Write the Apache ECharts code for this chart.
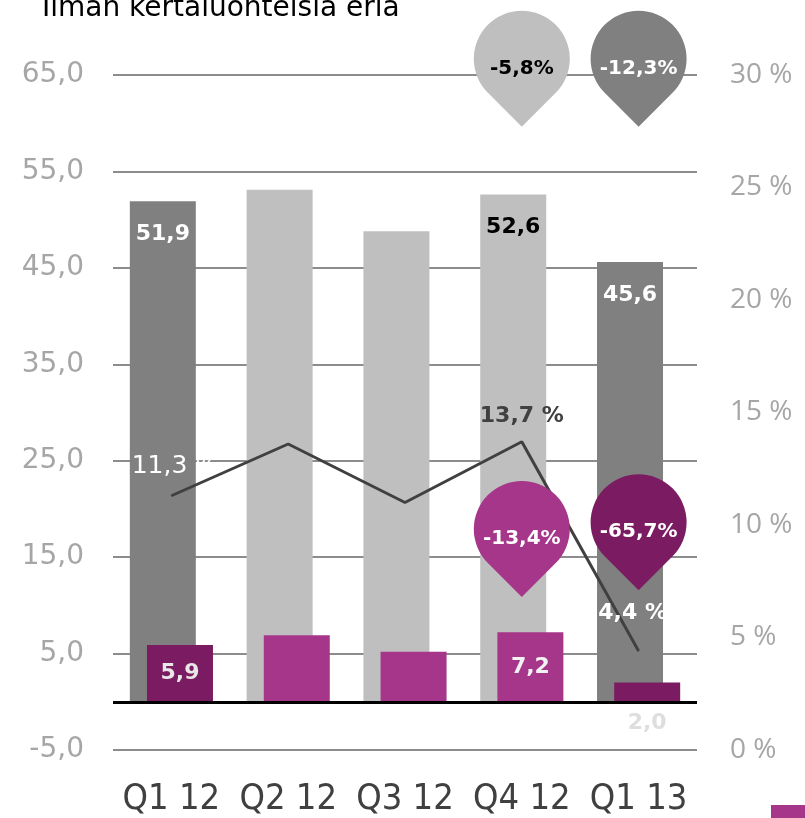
<!DOCTYPE html>
<html>
<head>
<meta charset="utf-8">
<script src="https://cdn.jsdelivr.net/npm/echarts@6/dist/echarts.min.js"></script>
<style>
    html, body { margin: 0; padding: 0; background: #fff; }
    #chart { width: 805px; height: 818px; }
</style>
</head>
<body>
<div id="chart"></div>
<script>
    let categories = ['Q1 12', 'Q2 12', 'Q3 12', 'Q4 12', 'Q1 13'];
    let salesValues = [51.9, 53.1, 48.8, 52.6, 45.6];
    let profitValues = [5.9, 6.9, 5.2, 7.2, 2.0];
    let marginValues = [11.3, 13.6, 11.0, 13.7, 4.4];
    let changeValues = [-5.8, -12.3, -13.4, -65.7];

    let fmt = function(v){
        return v.toFixed(1).replace('.', ',');
    };

    let darkGray = '#808080', lightGray = '#bfbfbf';
    let darkPurple = '#7b1c62', purple = '#a6368a';
    let pinPath = 'path://M-70.71 70.71A100 100 0 1 1 70.71 70.71L0 141.42Z';
    let labelFont = 'DejaVu Sans';

    // first and last quarter are highlighted
    let isDark = function(i){ return i === 0 || i === 4; };

    let salesData = salesValues.map(function(v, i){
        let lbl = { show: false };
        if (i === 0 || i === 4) lbl = { show: true, color: '#fff' };
        if (i === 3) lbl = { show: true, color: '#000' };
        return {
            value: v,
            itemStyle: { color: isDark(i) ? darkGray : lightGray },
            label: lbl
        };
    });

    let profitData = profitValues.map(function(v, i){
        let lbl = { show: false };
        if (i === 0) lbl = { show: true, color: '#e8e8e8', position: 'inside' };
        if (i === 3) lbl = { show: true, color: '#f2f2f2', position: 'inside' };
        if (i === 4) lbl = { show: true, color: '#dedede', position: 'bottom', distance: 10 };
        return {
            value: v,
            itemStyle: { color: isDark(i) ? darkPurple : purple },
            label: lbl
        };
    });

    let marginData = marginValues.map(function(v, i){
        let lbl = { show: false };
        if (i === 0) lbl = { show: true, color: '#fff', fontWeight: 'normal', fontSize: 25, distance: 16, offset: [4, 0] };
        if (i === 3) lbl = { show: true, color: '#404040', distance: 14 };
        if (i === 4) lbl = { show: true, color: '#fff', distance: 26, offset: [-6, 0] };
        return { value: v, label: lbl };
    });

    // pins are anchored at their tip, on the percent axis
    let pin = function(cat, y, val, color, textColor){
        return {
            coord: [cat, y],
            value: val,
            itemStyle: { color: color },
            label: { color: textColor }
        };
    };

    let option = {
        animation: false,
        title: {
            text: 'Ilman kertaluonteisia eriä',
            left: 37,
            top: -10,
            textStyle: { fontFamily: labelFont, fontSize: 28, fontWeight: 'normal', color: '#000', lineHeight: 28 }
        },
        legend: {
            data: ['Liikevoitto'],
            left: 771,
            top: 805,
            padding: 0,
            itemWidth: 34,
            itemHeight: 14,
            icon: 'rect',
            textStyle: { fontSize: 14, color: '#404040' }
        },
        grid: { left: 113, right: 108, top: 75, bottom: 68, containLabel: false, outerBoundsMode: 'none' },
        xAxis: {
            type: 'category',
            data: categories,
            axisLine: { show: false },
            axisTick: { show: false },
            axisLabel: {
                interval: 0,
                margin: 30,
                fontFamily: "'Liberation Sans Narrow', 'DejaVu Sans Condensed', 'DejaVu Sans'",
                fontSize: 36,
                lineHeight: 40,
                color: '#404040'
            }
        },
        yAxis: [
            {
                type: 'value',
                min: -5,
                max: 65,
                interval: 10,
                axisLine: { show: false },
                axisTick: { show: false },
                splitLine: { lineStyle: { color: '#8c8c8c', width: 2 } },
                axisLabel: {
                    margin: 29,
                    fontFamily: labelFont,
                    fontSize: 28,
                    color: '#a6a6a6',
                    formatter: function(v){ return fmt(v); }
                }
            },
            {
                type: 'value',
                min: 0,
                max: 30,
                interval: 5,
                axisLine: { show: false },
                axisTick: { show: false },
                splitLine: { show: false },
                axisLabel: {
                    margin: 33,
                    fontFamily: "'Open Sans'",
                    fontSize: 28,
                    color: '#a6a6a6',
                    formatter: '{value} %'
                }
            }
        ],
        series: [
            {
                name: 'Liikevaihto',
                type: 'bar',
                data: salesData,
                barWidth: 66,
                barGap: '-74%',
                label: {
                    position: 'insideTop',
                    distance: 22,
                    fontFamily: labelFont,
                    fontWeight: 'bold',
                    fontSize: 22,
                    formatter: function(p){ return fmt(p.value); }
                },
                markLine: {
                    silent: true,
                    symbol: 'none',
                    label: { show: false },
                    lineStyle: { color: '#000', width: 3, type: 'solid' },
                    data: [{ yAxis: 0 }]
                }
            },
            {
                name: 'Liikevoitto',
                type: 'bar',
                data: profitData,
                barWidth: 66,
                itemStyle: { color: purple },
                label: {
                    fontFamily: labelFont,
                    fontWeight: 'bold',
                    fontSize: 22,
                    formatter: function(p){ return fmt(p.value); }
                }
            },
            {
                name: 'Liikevoitto-%',
                type: 'line',
                yAxisIndex: 1,
                data: marginData,
                symbol: 'circle',
                symbolSize: 1,
                showSymbol: true,
                itemStyle: { color: '#404040' },
                lineStyle: { color: '#404040', width: 3 },
                z: 3,
                label: {
                    position: 'top',
                    fontFamily: labelFont,
                    fontWeight: 'bold',
                    fontSize: 22,
                    formatter: function(p){ return fmt(p.value) + ' %'; }
                },
                markPoint: {
                    symbol: pinPath,
                    symbolSize: [96, 116],
                    symbolOffset: [0, -58],
                    label: {
                        position: 'inside',
                        fontFamily: labelFont,
                        fontWeight: 'bold',
                        fontSize: 20,
                        formatter: function(p){ return fmt(p.value) + '%'; }
                    },
                    data: [
                        pin(categories[3], 27.7, changeValues[0], lightGray, '#000'),
                        pin(categories[4], 27.7, changeValues[1], darkGray, '#fff'),
                        pin(categories[3], 6.8, changeValues[2], purple, '#fff'),
                        pin(categories[4], 7.1, changeValues[3], darkPurple, '#fff')
                    ]
                }
            }
        ]
    };

    let chart = echarts.init(document.getElementById('chart'));
    chart.setOption(option);
</script>
</body>
</html>
